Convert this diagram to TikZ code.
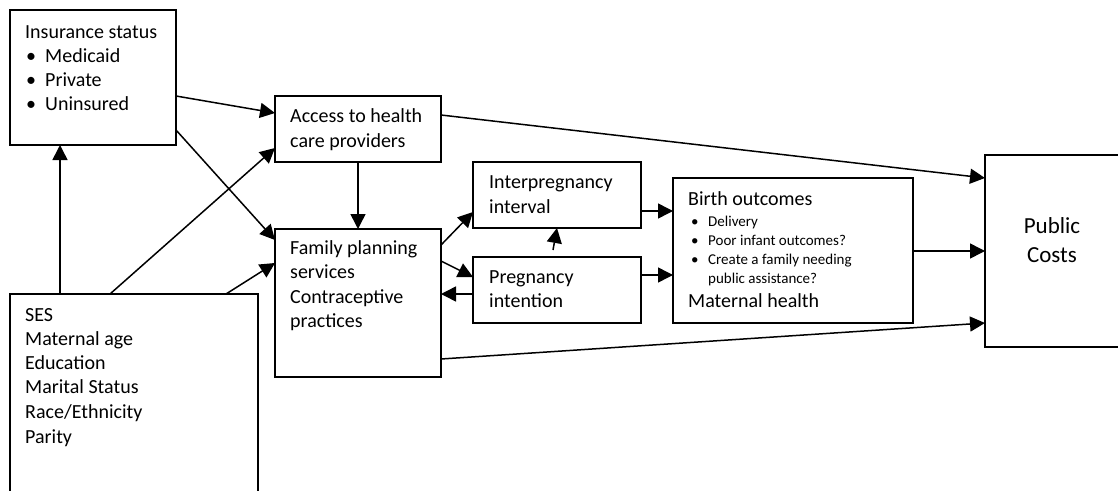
\documentclass[tikz,border=0pt]{standalone}
\usepackage{fontspec}
\setmainfont{Carlito}
\usetikzlibrary{arrows.meta,calc}
\begin{document}
\begin{tikzpicture}[x=1pt,y=-1pt,
  box/.style={draw,line width=1.8pt,inner sep=0pt,outer sep=0pt,anchor=north west},
  arr/.style={line width=1.5pt,-{Triangle[length=15pt,width=15pt]}},
  t/.style={anchor=base west,inner sep=0pt,font=\fontsize{20pt}{24pt}\selectfont},
  s/.style={anchor=base west,inner sep=0pt,font=\fontsize{15pt}{18pt}\selectfont},
  pcs/.style={anchor=base,inner sep=0pt,font=\fontsize{23pt}{28pt}\selectfont}]
\useasboundingbox (0,0) rectangle (1118,490);
\clip (0,0) rectangle (1118,490);
% boxes
\node[box,minimum width=166pt,minimum height=135pt] (ins) at (10,10) {};
\node[box,minimum width=166pt,minimum height=66pt] (acc) at (275,96) {};
\node[box,minimum width=166pt,minimum height=148pt] (fp) at (275,229) {};
\node[box,minimum width=248pt,minimum height=230pt] (ses) at (10,294) {};
\node[box,minimum width=168pt,minimum height=66pt] (ipi) at (473,162) {};
\node[box,minimum width=168pt,minimum height=66pt] (pi) at (473,257) {};
\node[box,minimum width=240pt,minimum height=145pt] (bo) at (673,178) {};
\node[box,minimum width=150pt,minimum height=192pt] (pc) at (985,155) {};
% texts
\node[t] (insA) at (25,38) {Insurance status};
\node[t] (insB1) at (26,62) {•}; \node[t] (insB) at (45,62) {Medicaid};
\node[t] (insC1) at (26,86) {•}; \node[t] (insC) at (45,86) {Private};
\node[t] (insD1) at (26,110) {•}; \node[t] (insD) at (45,110) {Uninsured};
\node[t] (accA) at (290,122) {Access to health};
\node[t] (accB) at (290,147) {care providers};
\node[t] (fpA) at (290,254) {Family planning};
\node[t] (fpB) at (290,278) {services};
\node[t] (fpC) at (290,303) {Contraceptive};
\node[t] (fpD) at (290,327) {practices};
\node[t] (sesA) at (25,321) {SES};
\node[t] (sesB) at (25,345) {Maternal age};
\node[t] (sesC) at (25,369) {Education};
\node[t] (sesD) at (25,393) {Marital Status};
\node[t] (sesE) at (25,418) {Race/Ethnicity};
\node[t] (sesF) at (25,443) {Parity};
\node[t] (ipiA) at (489,188) {Interpregnancy};
\node[t] (ipiB) at (489,213) {interval};
\node[t] (piA) at (489,283) {Pregnancy};
\node[t] (piB) at (489,307) {intention};
\node[t] (boA) at (688,205) {Birth outcomes};
\node[s] (boB1) at (691,226) {•}; \node[s] (boB) at (708,226) {Delivery};
\node[s] (boC1) at (691,245) {•}; \node[s] (boC) at (708,245) {Poor infant outcomes?};
\node[s] (boD1) at (691,264) {•}; \node[s] (boD) at (708,264) {Create a family needing};
\node[s] (boE) at (708,283) {public assistance?};
\node[t] (boF) at (688,307) {Maternal health};
\node[pcs] (pcA) at (1052,233) {Public};
\node[pcs] (pcB) at (1052,262) {Costs};
% connectors
\draw[arr] ($(ins.north east)+(0,86)$) -- ($(acc.north west)+(0,17)$);
\draw[arr] ($(ins.north east)+(0,120)$) -- ($(fp.north west)+(0,11)$);
\draw[arr] ($(ses.north west)+(50,0)$) -- ($(ins.south west)+(50,0)$);
\draw[arr] ($(ses.north west)+(100,0)$) -- ($(acc.south west)+(0,-14)$);
\draw[arr] ($(ses.north west)+(216,0)$) -- ($(fp.north west)+(0,34)$);
\draw[arr] (acc.south) -- (fp.north);
\draw[arr] ($(acc.north east)+(0,19)$) -- ($(pc.north west)+(0,23)$);
\draw[arr] ($(fp.north east)+(0,16)$) -- ($(ipi.north west)+(0,50)$);
\draw[arr] ($(fp.north east)+(0,32)$) -- ($(pi.north west)+(0,20)$);
\draw[arr] ($(pi.north west)+(0,37)$) -- ($(fp.north east)+(0,65)$);
\draw[arr] ($(pi.north)+(-4,-7)$) -- (ipi.south);
\draw[arr] ($(ipi.north east)+(0,49)$) -- ($(bo.north west)+(0,33)$);
\draw[arr] ($(pi.north east)+(0,18)$) -- ($(bo.north west)+(0,97)$);
\draw[arr] ($(bo.north east)+(0,73)$) -- ($(pc.north west)+(0,96)$);
\draw[arr] ($(fp.south east)+(0,-18)$) -- ($(pc.south west)+(0,-24)$);
\end{tikzpicture}
\end{document}
